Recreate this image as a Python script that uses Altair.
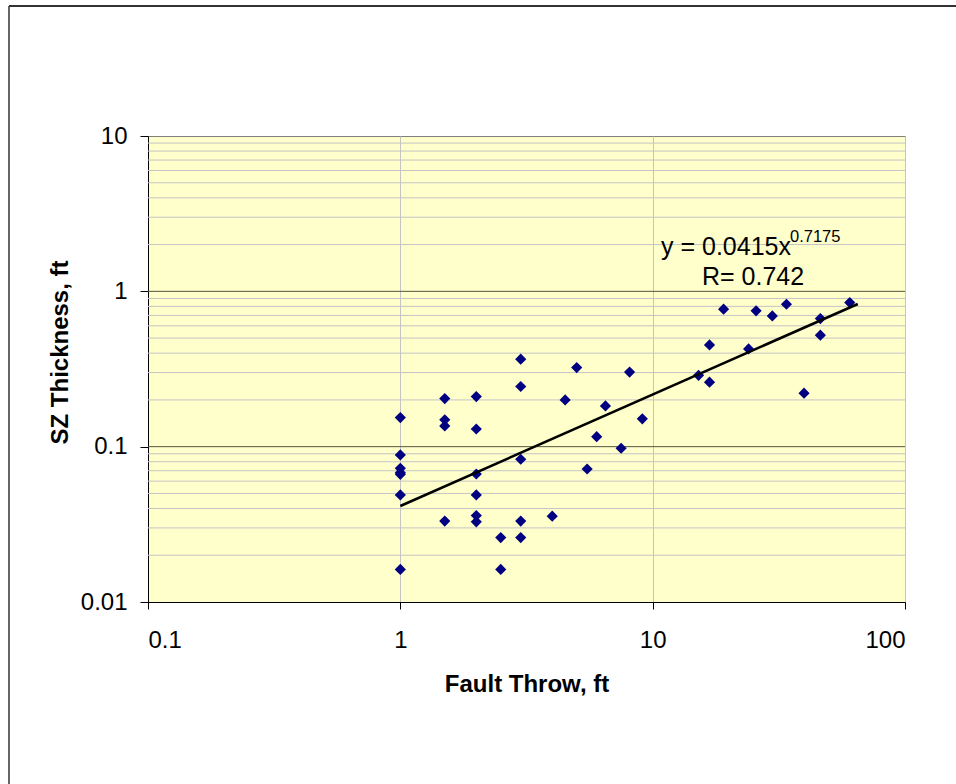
import altair as alt
import pandas as pd

# ---- data ----
throw_ft = [1, 1, 1, 1, 1, 1, 1,
            1.5, 1.5, 1.5, 1.5,
            2, 2, 2, 2, 2, 2,
            2.5, 2.5,
            3, 3, 3, 3, 3,
            4, 4.5, 5, 5.5, 6, 6.5, 7.5, 8.1, 9.1,
            15.2, 16.8, 16.8, 19.1, 24, 25.7, 29.8, 33.9, 39.8, 46.2, 46.2, 60.4]
sz_ft = [0.154, 0.0885, 0.0726, 0.068, 0.0664, 0.0489, 0.0162,
         0.204, 0.149, 0.136, 0.0332,
         0.210, 0.130, 0.0667, 0.0489, 0.036, 0.0328,
         0.026, 0.0162,
         0.366, 0.244, 0.083, 0.0332, 0.026,
         0.0357, 0.200, 0.323, 0.0718, 0.116, 0.183, 0.0977, 0.302, 0.151,
         0.288, 0.452, 0.260, 0.768, 0.426, 0.749, 0.695, 0.826, 0.221, 0.668, 0.522, 0.847]

trend_x = [1, 65]
trend_y = [0.0415, 0.829]

x_ticks = [0.1, 1, 10, 100]
y_ticks = [0.01, 0.1, 1, 10]
major_y = [0.1, 1]
minor_y = [k * d for d in (0.01, 0.1, 1) for k in range(2, 10)]

eq_main = ["y = 0.0415x"]
eq_sup = ["0.7175"]
eq_r = ["R= 0.742"]

# ---- layout ----
W, H = 757, 466
LEFT, TOP = 148, 136
FONT = "Liberation Sans"

xs = alt.Scale(type="log", domain=[0.1, 100], nice=False)
ys = alt.Scale(type="log", domain=[0.01, 10], nice=False)

x_axis = alt.Axis(values=x_ticks, format="~g", title="Fault Throw, ft",
                  grid=True, gridColor="#c4c4c4", gridWidth=1,
                  tickSize=7, labelPadding=19, labelFontSize=24,
                  titleFontSize=24, titleFontWeight="bold",
                  titleBaseline="alphabetic", titleY=89)
y_axis = alt.Axis(values=y_ticks, format="~g", title="SZ Thickness, ft",
                  grid=False, tickSize=8, labelPadding=13, labelFontSize=24,
                  titleFontSize=24, titleFontWeight="bold",
                  titleBaseline="alphabetic", titleX=-81, titleY=216,
                  titleAngle=270, titleAlign="center")

minor = alt.Chart(pd.DataFrame({"v": minor_y})).mark_rule(
    color="#c4c4c4", strokeWidth=1
).encode(y=alt.Y("v:Q", scale=ys, axis=y_axis))

major = alt.Chart(pd.DataFrame({"v": major_y})).mark_rule(
    color="#55553f", strokeWidth=1
).encode(y=alt.Y("v:Q", scale=ys, axis=y_axis))

points = alt.Chart(pd.DataFrame({"throw": throw_ft, "sz": sz_ft})).mark_point(
    shape="diamond", filled=True, color="#000080", size=125, opacity=1
).encode(
    x=alt.X("throw:Q", scale=xs, axis=x_axis),
    y=alt.Y("sz:Q", scale=ys, axis=y_axis),
)

trend = alt.Chart(pd.DataFrame({"tx": trend_x, "ty": trend_y})).mark_line(
    color="black", strokeWidth=2.6
).encode(x=alt.X("tx:Q", scale=xs, axis=x_axis), y=alt.Y("ty:Q", scale=ys, axis=y_axis))

t1 = alt.Chart(pd.DataFrame({"t": eq_main})).mark_text(
    align="left", baseline="alphabetic", fontSize=25, font=FONT, color="black"
).encode(text="t:N", x=alt.value(661 - LEFT), y=alt.value(255 - TOP))

t2 = alt.Chart(pd.DataFrame({"t": eq_sup})).mark_text(
    align="left", baseline="alphabetic", fontSize=16.5, font=FONT, color="black"
).encode(text="t:N", x=alt.value(790 - LEFT), y=alt.value(242 - TOP))

t3 = alt.Chart(pd.DataFrame({"t": eq_r})).mark_text(
    align="left", baseline="alphabetic", fontSize=25, font=FONT, color="black"
).encode(text="t:N", x=alt.value(702 - LEFT), y=alt.value(285 - TOP))

dummy = pd.DataFrame({"d": [0]})
frame_top = alt.Chart(dummy).mark_rule(color="#333333", strokeWidth=2).encode(
    x=alt.value(9 - LEFT), x2=alt.value(960 - LEFT), y=alt.value(6 - TOP))
frame_left = alt.Chart(dummy).mark_rule(color="#333333", strokeWidth=1.5).encode(
    x=alt.value(9 - LEFT), y=alt.value(6 - TOP), y2=alt.value(790 - TOP))

chart = alt.layer(
    minor, major, points, trend, t1, t2, t3, frame_top, frame_left
).properties(
    width=W, height=H,
    autosize=alt.AutoSizeParams(type="none"),
    padding={"left": LEFT, "top": TOP, "right": 956 - LEFT - W, "bottom": 784 - TOP - H},
    background="white",
).configure_view(
    fill="#FFFFCC", stroke="#808080", strokeWidth=1
).configure_axis(
    labelFont=FONT, titleFont=FONT, labelColor="black", titleColor="black",
    domainColor="black", tickColor="black", domainWidth=1, tickWidth=1,
)

chart.save("out.html", embed_options={"renderer": "svg", "actions": False})
